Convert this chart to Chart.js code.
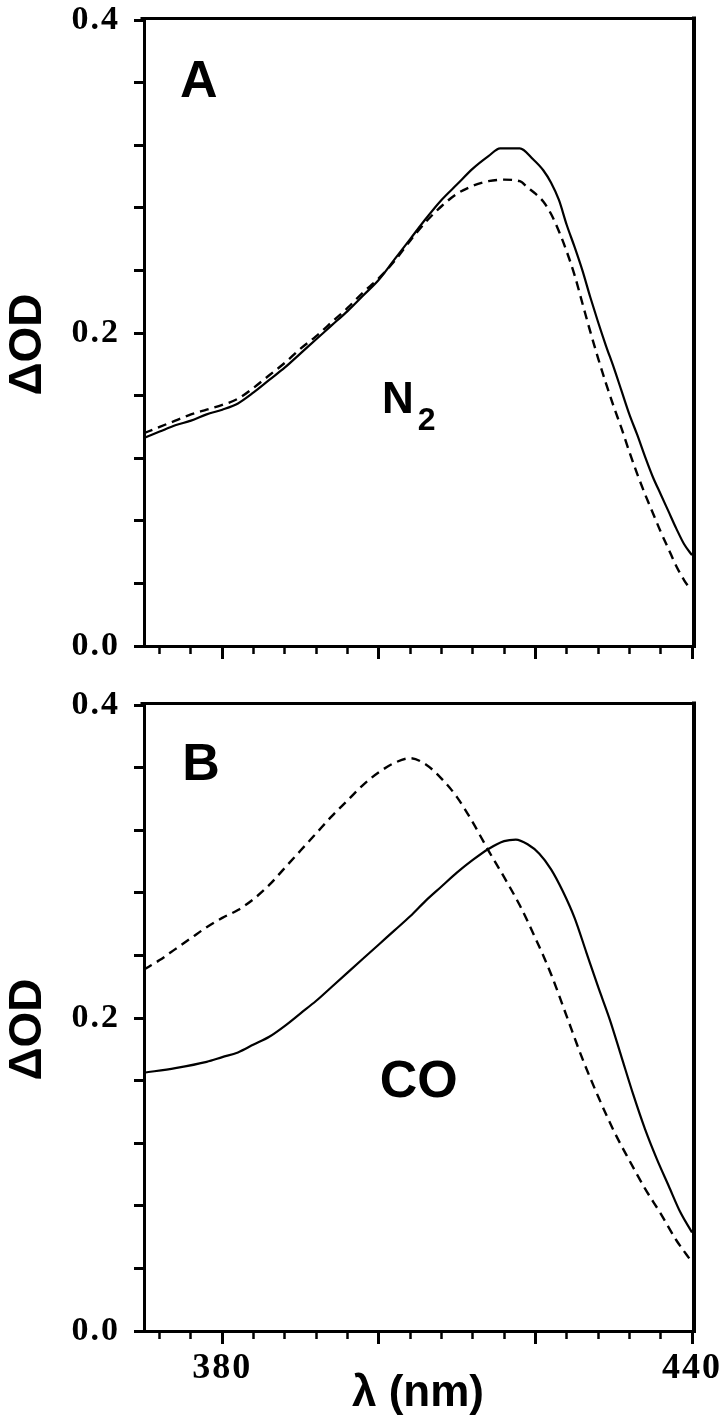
<!DOCTYPE html>
<html><head><meta charset="utf-8">
<script src="https://cdn.jsdelivr.net/npm/chart.js@4.4.0/dist/chart.umd.min.js"></script>
<style>
html,body{margin:0;padding:0;background:#fff;}
body{width:728px;height:1427px;position:relative;overflow:hidden;}
canvas{position:absolute;left:0;}
#cA{top:0;}
#cB{top:680px;}
</style></head><body>
<canvas id="cA" width="728" height="700"></canvas>
<canvas id="cB" width="728" height="747"></canvas>
<script>
// ---------- data ----------
const aSolidNm = [370,372,374,376,378,380,382,384,386,388,390,392,394,396,398,400,402,404,406,408,410,412,414,415.5,418,419.7,421,422,423,424,425,426,427,428,429,430,431,432,433,434,435,436,437,438,439,440];
const aSolidOD = [0.133,0.137,0.141,0.144,0.148,0.151,0.155,0.162,0.170,0.178,0.187,0.196,0.205,0.214,0.224,0.234,0.247,0.260,0.273,0.285,0.295,0.305,0.313,0.318,0.318,0.311,0.304,0.296,0.285,0.269,0.255,0.240,0.223,0.207,0.192,0.178,0.163,0.148,0.135,0.121,0.108,0.097,0.086,0.075,0.065,0.058];
const aDashNm = [370,372,374,376,378,380,382,384,386,388,390,392,394,396,398,400,402,404,406,408,410,412,414,416,418,419,420,421,422,423,424,425,426,427,428,429,430,431,432,433,434,435,436,437,438,439,439.7];
const aDashOD = [0.136,0.140,0.144,0.148,0.151,0.154,0.158,0.165,0.173,0.181,0.190,0.198,0.207,0.216,0.226,0.235,0.246,0.259,0.271,0.281,0.289,0.294,0.297,0.298,0.297,0.293,0.289,0.284,0.276,0.265,0.252,0.237,0.219,0.201,0.184,0.168,0.153,0.139,0.124,0.110,0.097,0.085,0.073,0.062,0.051,0.042,0.037];

const bSolidNm = [370,374,378,380,382,384,386,388,390,392,394,396,398,400,402,404,406,408,410,412,414,416,417.5,419,420.5,422,423.5,425,426.5,428,429.5,431,432.5,434,435.5,437,438.5,440];
const bSolidOD = [0.165,0.168,0.172,0.175,0.178,0.183,0.188,0.195,0.203,0.211,0.220,0.229,0.238,0.247,0.256,0.265,0.275,0.284,0.293,0.301,0.308,0.313,0.314,0.311,0.305,0.295,0.281,0.264,0.242,0.220,0.199,0.175,0.151,0.129,0.110,0.093,0.076,0.063];
const bDashNm = [370,372,374,376,378,380,382,384,386,388,390,392,394,396,398,400,402,404,406,408,410,412,414,416,418,420,422,424,426,428,430,432,434,436,438,440];
const bDashOD = [0.231,0.237,0.244,0.251,0.258,0.264,0.269,0.276,0.285,0.296,0.307,0.318,0.329,0.339,0.349,0.357,0.363,0.366,0.362,0.353,0.341,0.325,0.307,0.290,0.272,0.251,0.228,0.201,0.174,0.150,0.128,0.109,0.091,0.075,0.058,0.044];

// ---------- axes / ticks ----------
const xMin = 370, xMax = 440;
const yMin = 0, yMax = 0.4;
const xMajorTicks = [380, 400, 420, 440];
const xMajorLabels = ['380', '', '', '440'];
const xMinorTicks = [372,376,380,384,388,392,396,400,404,408,412,416,420,424,428,432,436,440];
const yTickValues = [0,0.04,0.08,0.12,0.16,0.2,0.24,0.28,0.32,0.36,0.4];
const yTickLabels = ['0.0','','','','','0.2','','','','','0.4'];

const SANS = '"Liberation Sans", Arial, Helvetica, sans-serif';
const SERIF = '"Liberation Serif", "Times New Roman", Times, serif';

// wider tracking for the serif tick numbers (tick labels are drawn after datasets: z = 1)
const trackingPlugin = {
  id: 'tracking',
  afterDatasetsDraw(chart) { chart.ctx.letterSpacing = '2px'; },
  afterDraw(chart) { chart.ctx.letterSpacing = '0px'; }
};

const framePlugin = {
  id: 'frame',
  afterDraw(chart) {
    const {ctx, chartArea: a} = chart;
    ctx.save();
    ctx.strokeStyle = '#000';
    ctx.lineCap = 'square';
    ctx.lineWidth = 3;
    ctx.beginPath();
    ctx.moveTo(a.left - 2, a.top - 1.5);
    ctx.lineTo(a.right + 2, a.top - 1.5);
    ctx.stroke();
    ctx.lineWidth = 4;
    ctx.beginPath();
    ctx.moveTo(a.right + 2, a.top - 1.5);
    ctx.lineTo(a.right + 2, a.bottom);
    ctx.stroke();
    ctx.restore();
  }
};

const panelTextPlugin = {
  id: 'panelText',
  afterDraw(chart, args, opts) {
    const {ctx, scales} = chart;
    ctx.save();
    ctx.letterSpacing = '0px';
    ctx.fillStyle = '#000';
    ctx.textAlign = 'left';
    ctx.textBaseline = 'alphabetic';
    for (const it of (opts.items || [])) {
      const px = scales.x.getPixelForValue(it.nm);
      const py = scales.y.getPixelForValue(it.od);
      ctx.font = 'bold ' + it.size + 'px ' + SANS;
      ctx.fillText(it.text, px, py);
      if (it.sub) {
        const w = ctx.measureText(it.text).width;
        ctx.font = 'bold ' + it.subSize + 'px ' + SANS;
        ctx.fillText(it.sub, px + w + it.subGap, py + it.subDrop);
      }
    }
    ctx.restore();
  }
};

function pairs(xs, ys) { return xs.map((x, i) => ({x: x, y: ys[i]})); }

function makeChart(id, solidNm, solidOD, dashNm, dashOD, o) {
  return new Chart(document.getElementById(id), {
    type: 'line',
    data: {
      datasets: [
        { data: pairs(solidNm, solidOD), borderColor: '#000', borderWidth: 2.2, pointRadius: 0, fill: false, cubicInterpolationMode: 'monotone' },
        { data: pairs(dashNm, dashOD), borderColor: '#000', borderWidth: 2.4, borderDash: [9, 6], pointRadius: 0, fill: false, cubicInterpolationMode: 'monotone' }
      ]
    },
    options: {
      responsive: false,
      animation: false,
      devicePixelRatio: 1,
      layout: { padding: { top: o.padTop, right: 36, left: 0, bottom: 0 } },
      plugins: {
        legend: { display: false },
        tooltip: { enabled: false },
        panelText: { items: o.items }
      },
      scales: {
        x: {
          type: 'linear', min: xMin, max: xMax, position: 'bottom',
          afterBuildTicks: s => { s.ticks = xMajorTicks.map(v => ({value: v})); },
          afterFit: s => { s.height = o.xHeight; s.paddingLeft = 0; s.paddingRight = 0; },
          grid: { drawOnChartArea: false, drawTicks: true, tickLength: 13, tickWidth: 3, tickColor: '#000' },
          border: { display: true, color: '#000', width: 3 },
          ticks: { display: o.showXLabels, z: 1, autoSkip: false, maxRotation: 0, padding: 3, color: '#000',
                   callback: (v, i) => xMajorLabels[i],
                   font: { family: SERIF, size: 36, weight: 'bold' } },
          title: { display: o.showXTitle, text: 'λ (nm)', color: '#000',
                   font: { family: SANS, size: 44, weight: 'bold', lineHeight: 1.0 },
                   padding: { top: 0, bottom: 11 } }
        },
        xMinor: {
          type: 'linear', axis: 'x', min: xMin, max: xMax, position: { y: 0 },
          afterBuildTicks: s => { s.ticks = xMinorTicks.map(v => ({value: v})); },
          afterFit: s => { s.paddingLeft = 0; s.paddingRight = 0; s.paddingTop = 0; s.paddingBottom = 0; },
          grid: { drawOnChartArea: false, drawTicks: true, tickLength: 8, tickWidth: 2.5, tickColor: '#000' },
          border: { display: false },
          ticks: { display: false }
        },
        y: {
          type: 'linear', min: yMin, max: yMax, position: 'left',
          afterBuildTicks: s => { s.ticks = yTickValues.map(v => ({value: v})); },
          afterFit: s => { s.width = 144; s.paddingTop = 0; s.paddingBottom = 0; },
          grid: { drawOnChartArea: false, drawTicks: true, tickLength: 10, tickWidth: 3, tickColor: '#000' },
          border: { display: true, color: '#000', width: 3 },
          ticks: { z: 1, autoSkip: false, padding: 14, color: '#000',
                   callback: (v, i) => yTickLabels[i],
                   font: { family: SERIF, size: 34, weight: 'bold' } },
          title: { display: true, text: 'ΔOD\u2002', color: '#000',
                   font: { family: SANS, size: 46, weight: 'bold', lineHeight: 1.04 },
                   padding: { top: 4, bottom: 0 } }
        }
      }
    },
    plugins: [trackingPlugin, framePlugin, panelTextPlugin]
  });
}

makeChart('cA', aSolidNm, aSolidOD, aDashNm, aDashOD, {
  padTop: 20, xHeight: 54, showXLabels: false, showXTitle: false,
  items: [
    { text: 'A', nm: 374.6, od: 0.351, size: 52 },
    { text: 'N', nm: 400.4, od: 0.149, size: 44, sub: '2', subSize: 32, subGap: 4, subDrop: 17 }
  ]
});
makeChart('cB', bSolidNm, bSolidOD, bDashNm, bDashOD, {
  padTop: 25, xHeight: 96, showXLabels: true, showXTitle: true,
  items: [
    { text: 'B', nm: 374.9, od: 0.352, size: 52 },
    { text: 'CO', nm: 400.1, od: 0.1495, size: 52 }
  ]
});
</script>
</body></html>
